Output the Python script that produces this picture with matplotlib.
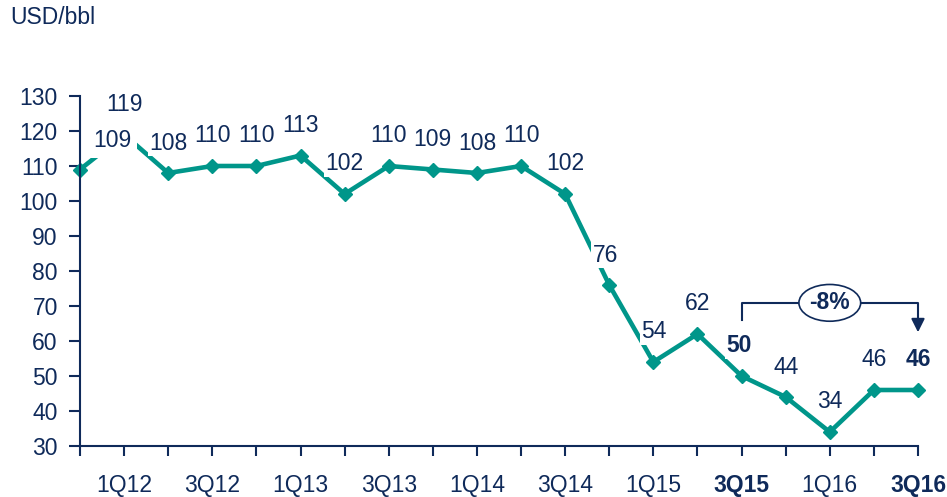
import matplotlib.pyplot as plt
from matplotlib.patches import Ellipse

quarters = ['4Q11', '1Q12', '2Q12', '3Q12', '4Q12', '1Q13', '2Q13', '3Q13', '4Q13', '1Q14',
            '2Q14', '3Q14', '4Q14', '1Q15', '2Q15', '3Q15', '4Q15', '1Q16', '2Q16', '3Q16']
prices = [109, 119, 108, 110, 110, 113, 102, 110, 109, 108,
          110, 102, 76, 54, 62, 50, 44, 34, 46, 46]
shown_labels = ['1Q12', '3Q12', '1Q13', '3Q13', '1Q14', '3Q14', '1Q15', '3Q15', '1Q16', '3Q16']
bold_labels = ['3Q15', '3Q16']
yticks = [30, 40, 50, 60, 70, 80, 90, 100, 110, 120, 130]

teal = '#00968A'
navy = '#0F2A5A'
fs = 16.5

plt.rcParams['font.family'] = ['Liberation Sans', 'DejaVu Sans']

fig = plt.figure(figsize=(9.47, 4.97), dpi=100)
ax = fig.add_axes([80 / 947, 1 - 446 / 497, (918 - 80) / 947, (446 - 96) / 497])

x = list(range(len(quarters)))
ax.plot(x, prices, color=teal, lw=3.3, marker='D', ms=7, zorder=2, clip_on=False)

# data labels with white boxes (they hide the line underneath)
for i, (q, v) in enumerate(zip(quarters, prices)):
    dx, dy = 0, 30
    pad = 0.05
    if i == 0:
        dx, dy = 32, 29
        pad = 0.25
    if q == '4Q14':
        dx = -4
    if q == '3Q15':
        dx = -3
    weight = 'bold' if q in bold_labels else 'normal'
    ax.annotate(str(v), (i, v), xytext=(dx, dy), textcoords='offset pixels',
                ha='center', va='center', fontsize=fs, color=navy, fontweight=weight,
                bbox=dict(boxstyle='square,pad=%s' % pad, fc='white', ec='none'),
                zorder=3, annotation_clip=False)

ax.set_xlim(0, len(quarters) - 1)
ax.set_ylim(30, 130)
ax.set_yticks(yticks)
ax.tick_params(axis='y', labelsize=fs, colors=navy, length=8, width=1.5, pad=8)
ax.set_xticks(x)
ax.set_xticklabels([q if q in shown_labels else '' for q in quarters])
ax.tick_params(axis='x', labelsize=fs, colors=navy, length=7, width=1.5, pad=13)
for lab in ax.get_xticklabels():
    if lab.get_text() in bold_labels:
        lab.set_fontweight('bold')

for s in ['top', 'right']:
    ax.spines[s].set_visible(False)
for s in ['left', 'bottom']:
    ax.spines[s].set_color(navy)
    ax.spines[s].set_linewidth(1.5)

# -8% bracket from 3Q15 to 3Q16
i0 = quarters.index('3Q15')
i1 = quarters.index('3Q16')
ytop = 70.9
ax.plot([i0, i0, i1, i1], [66, ytop, ytop, 66.5], color=navy, lw=1.5, zorder=4, clip_on=False)
ax.annotate('', xy=(i1, 61.7), xytext=(i1, 66.8),
            arrowprops=dict(arrowstyle='-|>,head_length=0.8,head_width=0.4', color=navy, lw=1.5),
            annotation_clip=False, zorder=4)
xm = (i0 + i1) / 2
ax.add_patch(Ellipse((xm, ytop), 1.4, 10.5, fc='white', ec=navy, lw=1.2, zorder=5, clip_on=False))
ax.text(xm, ytop, '-8%', ha='center', va='center', fontsize=fs, fontweight='bold',
        color=navy, zorder=6)

fig.text(10 / 947, 1 - 18 / 497, 'USD/bbl', ha='left', va='center', fontsize=fs, color=navy)

fig.savefig('out.png', dpi=100)
